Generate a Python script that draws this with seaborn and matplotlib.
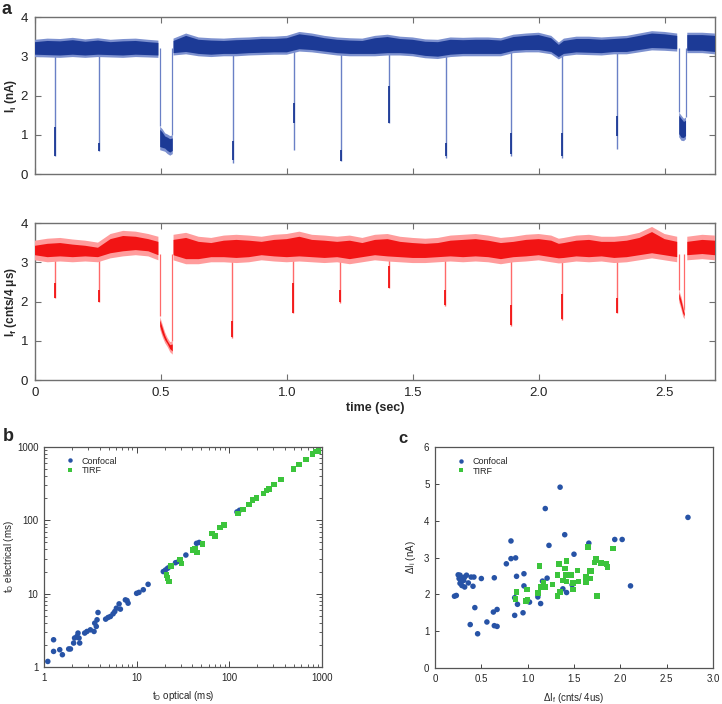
import numpy as np
import pandas as pd
import matplotlib
matplotlib.use("Agg")
import matplotlib.pyplot as plt
import seaborn as sns

sns.set_theme(style="ticks")
plt.rcParams["font.family"] = ["Liberation Sans", "DejaVu Sans"]
plt.rcParams["mathtext.fontset"] = "custom"
plt.rcParams["mathtext.rm"] = "Liberation Sans"
plt.rcParams["mathtext.it"] = "Liberation Sans:italic"
plt.rcParams["mathtext.bf"] = "Liberation Sans:bold"

nan = np.nan

# ---------------- panel a: ionic current (blue) ----------------
blue_t = [0.00, 0.05, 0.10, 0.15, 0.20, 0.25, 0.30, 0.35, 0.40, 0.45, 0.49, 0.52,
          0.55, 0.60, 0.65, 0.70, 0.75, 0.80, 0.85, 0.90, 0.95, 1.00, 1.05, 1.10,
          1.15, 1.20, 1.25, 1.30, 1.35, 1.40, 1.45, 1.50, 1.55, 1.60, 1.65, 1.70,
          1.75, 1.80, 1.85, 1.90, 1.95, 2.00, 2.05, 2.08, 2.10, 2.15, 2.20, 2.25,
          2.30, 2.35, 2.40, 2.45, 2.50, 2.55, 2.57, 2.59, 2.65, 2.70]
blue_lo = [2.98, 2.97, 2.96, 2.98, 2.96, 2.98, 2.97, 2.96, 2.98, 2.97, 2.96, nan,
           3.02, 3.05, 3.00, 2.98, 3.00, 3.00, 3.02, 3.03, 3.04, 3.04, 3.12, 3.10,
           3.06, 3.02, 3.00, 3.00, 3.00, 3.02, 3.02, 3.00, 2.95, 2.93, 2.98, 3.00,
           3.00, 3.00, 3.00, 3.08, 3.10, 3.10, 3.05, 2.92, 3.00, 3.04, 3.03, 3.02,
           3.05, 3.05, 3.10, 3.15, 3.14, 3.12, nan, 3.08, 3.08, 3.05]
blue_hi = [3.42, 3.45, 3.44, 3.47, 3.43, 3.46, 3.42, 3.44, 3.45, 3.42, 3.40, nan,
           3.45, 3.58, 3.48, 3.46, 3.45, 3.47, 3.48, 3.50, 3.50, 3.52, 3.62, 3.58,
           3.52, 3.48, 3.46, 3.45, 3.52, 3.55, 3.50, 3.48, 3.43, 3.42, 3.48, 3.47,
           3.48, 3.48, 3.46, 3.55, 3.58, 3.60, 3.52, 3.35, 3.45, 3.50, 3.50, 3.48,
           3.50, 3.52, 3.58, 3.64, 3.62, 3.58, nan, 3.60, 3.60, 3.58]

# short translocation events: time, deepest level, dark dwell segment
blue_ev_t = [0.081, 0.254, 0.787, 1.028, 1.213, 1.406, 1.631, 1.890, 2.093, 2.311]
blue_ev_min = [0.45, 0.58, 0.28, 0.62, 0.32, 1.30, 0.42, 0.47, 0.42, 0.64]
blue_ev_dlo = [0.45, 0.58, 0.35, 1.30, 0.33, 1.30, 0.45, 0.50, 0.45, 0.96]
blue_ev_dhi = [1.20, 0.80, 0.85, 1.80, 0.60, 2.25, 0.80, 1.04, 1.05, 1.47]

# long events
blue_long1_t = [0.495, 0.505, 0.515, 0.525, 0.535, 0.545]
blue_long1_lo = [0.62, 0.60, 0.58, 0.52, 0.48, 0.52]
blue_long1_hi = [1.22, 1.15, 1.05, 1.02, 0.98, 1.00]
blue_long2_t = [2.556, 2.565, 2.575, 2.583]
blue_long2_lo = [0.95, 0.86, 0.85, 0.90]
blue_long2_hi = [1.58, 1.50, 1.42, 1.45]

# ---------------- panel a: fluorescence (red) ----------------
red_t = blue_t
red_lo = [3.05, 3.00, 3.02, 3.00, 3.02, 3.00, 3.10, 3.15, 3.18, 3.15, 3.05, nan,
          3.05, 2.95, 2.95, 3.00, 3.00, 2.98, 3.00, 3.05, 3.02, 3.00, 3.02, 3.00,
          2.98, 3.00, 2.95, 3.00, 3.05, 3.02, 3.00, 2.98, 2.98, 3.00, 3.02, 3.00,
          3.02, 3.00, 2.95, 3.00, 3.02, 3.05, 3.00, 2.97, 2.98, 3.02, 3.00, 3.02,
          2.98, 3.00, 3.05, 3.10, 3.05, 3.00, nan, 3.05, 3.08, 3.05]
red_hi = [3.55, 3.60, 3.62, 3.58, 3.55, 3.50, 3.72, 3.80, 3.78, 3.72, 3.65, nan,
          3.70, 3.75, 3.65, 3.62, 3.68, 3.70, 3.68, 3.65, 3.70, 3.72, 3.78, 3.70,
          3.68, 3.65, 3.68, 3.62, 3.70, 3.72, 3.65, 3.62, 3.60, 3.62, 3.68, 3.70,
          3.72, 3.68, 3.62, 3.65, 3.70, 3.72, 3.68, 3.60, 3.62, 3.68, 3.70, 3.65,
          3.65, 3.68, 3.75, 3.90, 3.72, 3.65, nan, 3.65, 3.70, 3.68]

red_ev_t = [0.081, 0.254, 0.784, 1.026, 1.211, 1.406, 1.629, 1.890, 2.092, 2.311]
red_ev_min = [2.08, 2.00, 1.06, 1.70, 1.96, 2.35, 1.88, 1.37, 1.54, 1.71]
red_ev_dlo = [2.08, 2.00, 1.10, 1.70, 2.00, 2.35, 1.90, 1.40, 1.55, 1.72]
red_ev_dhi = [2.47, 2.30, 1.50, 2.47, 2.30, 2.91, 2.30, 1.90, 2.20, 2.10]

red_long1_t = [0.495, 0.505, 0.515, 0.525, 0.535, 0.545]
red_long1_lo = [1.30, 1.10, 0.95, 0.85, 0.72, 0.66]
red_long1_hi = [1.62, 1.42, 1.22, 1.08, 0.98, 1.00]
red_long2_t = [2.556, 2.565, 2.572, 2.578]
red_long2_lo = [2.00, 1.80, 1.62, 1.56]
red_long2_hi = [2.30, 2.12, 1.92, 1.78]

time_ticks = [0, 0.5, 1.0, 1.5, 2.0, 2.5]
time_labels = ["0", "0.5", "1.0", "1.5", "2.0", "2.5"]

# ---------------- panel b: dwell times ----------------
b_conf_x = [1.10, 1.27, 1.27, 1.48, 1.58, 1.85, 1.93, 2.09, 2.14, 2.27, 2.33, 2.43,
            2.39, 2.75, 2.91, 3.17, 3.47, 3.53, 3.67, 3.74, 3.83, 4.63, 4.92, 5.21,
            5.57, 5.81, 6.05, 6.47, 6.68, 7.56, 7.88, 8.09, 10.0, 10.6, 11.8, 13.3,
            19.4, 20.5, 21.6, 22.9, 26.3, 28.5, 34.0, 44.3, 47.3, 121, 129]
b_conf_y = [1.19, 1.63, 2.35, 1.72, 1.47, 1.76, 1.76, 2.12, 2.48, 2.61, 2.90, 2.12,
            2.48, 2.90, 3.05, 3.21, 3.05, 3.96, 3.57, 4.40, 5.53, 4.49, 4.73, 4.88,
            5.31, 5.70, 6.33, 7.25, 6.15, 8.22, 8.05, 7.41, 10.1, 10.4, 11.3, 13.4,
            20.0, 21.0, 22.2, 23.4, 26.4, 27.6, 33.6, 48.5, 49.9, 130, 137]
b_tirf_x = [21.0, 21.6, 22.5, 23.4, 29.2, 30.5, 40.1, 42.5, 45.0, 51.5, 64.9, 69.9,
            79.4, 87.3, 125, 141, 164, 178, 197, 233, 253, 268, 303, 362, 491, 564,
            672, 790, 864, 915]
b_tirf_y = [18.0, 16.2, 14.6, 24.0, 29.3, 25.9, 39.3, 40.5, 36.6, 47.5, 65.8, 61.5,
            80.3, 86.0, 124, 141, 165, 188, 203, 231, 256, 268, 306, 359, 504, 574,
            672, 795, 862, 886]

# ---------------- panel c: amplitudes ----------------
c_conf_x = [0.21, 0.23, 0.25, 0.27, 0.26, 0.28, 0.29, 0.31, 0.32, 0.34, 0.36, 0.39,
            0.41, 0.42, 0.50, 0.32, 0.30, 0.27, 0.38, 0.43, 0.46, 0.56, 0.64, 0.63,
            0.67, 0.64, 0.67, 0.77, 0.82, 0.82, 0.87, 0.86, 0.86, 0.88, 0.89, 0.96,
            0.96, 0.95, 1.02, 1.11, 1.14, 1.16, 1.19, 1.21, 1.23, 1.35, 1.38, 1.40,
            1.42, 1.50, 1.48, 1.66, 1.94, 2.02, 2.11, 2.73]
c_conf_y = [1.95, 1.97, 2.53, 2.52, 2.43, 2.33, 2.24, 2.38, 2.47, 2.52, 2.31, 2.47,
            2.22, 2.47, 2.43, 2.20, 2.45, 2.30, 1.18, 1.64, 0.93, 1.25, 2.45, 1.52,
            1.59, 1.15, 1.13, 2.83, 3.45, 2.97, 2.99, 1.91, 1.43, 2.49, 1.73, 2.56,
            2.23, 1.50, 1.79, 1.93, 1.75, 2.36, 4.33, 2.44, 3.33, 4.91, 2.15, 3.62,
            2.05, 3.09, 2.26, 3.39, 3.49, 3.49, 2.23, 4.09]
c_tirf_x = [0.88, 0.87, 0.99, 1.00, 0.98, 1.11, 1.13, 1.14, 1.17, 1.19, 1.27, 1.32,
            1.34, 1.32, 1.35, 1.38, 1.40, 1.41, 1.42, 1.42, 1.47, 1.49, 1.49, 1.54,
            1.55, 1.63, 1.63, 1.65, 1.67, 1.68, 1.69, 1.72, 1.74, 1.73, 1.75, 1.79,
            1.85, 1.86, 1.92]
c_tirf_y = [2.06, 1.88, 2.13, 1.86, 1.82, 2.04, 2.77, 2.20, 2.31, 2.20, 2.27, 2.52,
            2.83, 1.95, 2.06, 2.38, 2.70, 2.53, 2.90, 2.35, 2.52, 2.31, 2.13, 2.65,
            2.35, 2.33, 2.47, 3.29, 2.63, 2.43, 2.63, 2.86, 2.97, 2.92, 1.95, 2.85,
            2.83, 2.74, 3.24]

BLUE_DARK = "#1c3a96"
BLUE_LIGHT = "#7d91cf"
BLUE_SPIKE = "#6a80c6"
RED_DARK = "#f21414"
RED_LIGHT = "#ff9c9c"
RED_SPIKE = "#ff6a6a"
DOT_BLUE = "#2753a6"
DOT_GREEN = "#3cc43c"
SPINE = "#707070"

fig = plt.figure(figsize=(7.22, 7.04), dpi=100)
ax_i = fig.add_axes([0.0485, 0.7528, 0.9418, 0.2230])
ax_f = fig.add_axes([0.0485, 0.4602, 0.9418, 0.2230])
ax_b = fig.add_axes([0.0609, 0.0526, 0.3850, 0.3125])
ax_c = fig.add_axes([0.6025, 0.0511, 0.3850, 0.3139])


def draw_trace(ax, t, lo, hi, ev_t, ev_min, ev_dlo, ev_dhi, longs, dark, light, spike, core):
    lo = np.array(lo)
    hi = np.array(hi)
    # event spikes (thin line + darker dwell)
    ax.vlines(ev_t, ev_min, 3.2, color=spike, lw=1.0, zorder=1)
    ax.vlines(ev_t, ev_dlo, ev_dhi, color=dark, lw=1.3, zorder=2)
    for lt, llo, lhi in longs:
        ax.vlines([lt[0], lt[-1]], [lhi[0], lhi[-1]], 3.2, color=spike, lw=0.9, zorder=1)
        ax.fill_between(lt, llo, lhi, color=light, lw=0, zorder=2)
        ax.fill_between(lt, np.array(llo) + 0.08, np.array(lhi) - 0.08,
                        color=dark, lw=0, zorder=3)
    ax.fill_between(t, lo, hi, color=light, lw=0, zorder=3)
    ax.fill_between(t, lo + core, hi - core, color=dark, lw=0, zorder=4)


draw_trace(ax_i, blue_t, blue_lo, blue_hi, blue_ev_t, blue_ev_min, blue_ev_dlo,
           blue_ev_dhi,
           [(blue_long1_t, blue_long1_lo, blue_long1_hi),
            (blue_long2_t, blue_long2_lo, blue_long2_hi)],
           BLUE_DARK, BLUE_LIGHT, BLUE_SPIKE, 0.06)
draw_trace(ax_f, red_t, red_lo, red_hi, red_ev_t, red_ev_min, red_ev_dlo,
           red_ev_dhi,
           [(red_long1_t, red_long1_lo, red_long1_hi),
            (red_long2_t, red_long2_lo, red_long2_hi)],
           RED_DARK, RED_LIGHT, RED_SPIKE, 0.13)

for ax in (ax_i, ax_f):
    ax.set_xlim(0, 2.7)
    ax.set_ylim(0, 4)
    ax.set_yticks([0, 1, 2, 3, 4])
    ax.set_xticks(time_ticks)
    ax.tick_params(direction="in", top=True, right=True, length=4, width=0.8,
                   color=SPINE, labelsize=9.5, pad=5, labelcolor="#222222")
    for sp in ax.spines.values():
        sp.set_color(SPINE)
        sp.set_linewidth(1.0)

ax_i.set_xticklabels([])
ax_f.set_xticklabels(time_labels)
ax_i.set_ylabel(r"I$_{\mathbf{i}}$ (nA)", fontsize=8.5, fontweight="bold", labelpad=1)
ax_f.set_ylabel(r"I$_{\mathbf{f}}$ (cnts/4 μs)", fontsize=8.5, fontweight="bold", labelpad=1)
ax_f.set_xlabel("time (sec)", fontsize=9, fontweight="bold", labelpad=2)

# ---------------- panel b ----------------
dfb = pd.DataFrame({
    "x": b_conf_x + b_tirf_x,
    "y": b_conf_y + b_tirf_y,
    "kind": ["Confocal"] * len(b_conf_x) + ["TIRF"] * len(b_tirf_x),
})
dfc = pd.DataFrame({
    "x": c_conf_x + c_tirf_x,
    "y": c_conf_y + c_tirf_y,
    "kind": ["Confocal"] * len(c_conf_x) + ["TIRF"] * len(c_tirf_x),
})
pal = {"Confocal": DOT_BLUE, "TIRF": DOT_GREEN}
mk = {"Confocal": "o", "TIRF": "s"}

sns.scatterplot(data=dfb, x="x", y="y", hue="kind", style="kind", palette=pal,
                markers=mk, s=16, linewidth=0, ax=ax_b)
ax_b.set_xscale("log")
ax_b.set_yscale("log")
ax_b.set_xlim(1, 1000)
ax_b.set_ylim(1, 1000)
ax_b.set_xticks([1, 10, 100, 1000])
ax_b.set_xticklabels(["1", "10", "100", "1000"])
ax_b.set_yticks([1, 10, 100, 1000])
ax_b.set_yticklabels(["1", "10", "100", "1000"])
ax_b.set_xlabel(r"t$_\mathrm{D}$ optical (ms)", fontsize=7, labelpad=5)
ax_b.set_ylabel(r"t$_\mathrm{D}$ electrical (ms)", fontsize=7, labelpad=1)

sns.scatterplot(data=dfc, x="x", y="y", hue="kind", style="kind", palette=pal,
                markers=mk, s=16, linewidth=0, ax=ax_c)
ax_c.set_xlim(0, 3.0)
ax_c.set_ylim(0, 6)
ax_c.set_xticks([0, 0.5, 1.0, 1.5, 2.0, 2.5, 3.0])
ax_c.set_xticklabels(["0", "0.5", "1.0", "1.5", "2.0", "2.5", "3.0"])
ax_c.set_yticks([0, 1, 2, 3, 4, 5, 6])
ax_c.set_xlabel(r"ΔI$_\mathrm{f}$ (cnts/ 4us)", fontsize=7, labelpad=5)
ax_c.set_ylabel(r"ΔI$_\mathrm{i}$ (nA)", fontsize=7, labelpad=4)

ax_b.tick_params(which="major", direction="in", top=True, right=True, length=4,
                 width=0.7, color="#444444", labelsize=7, pad=4)
ax_b.tick_params(which="minor", direction="in", top=True, right=True, length=2.5,
                 width=0.6, color="#444444")
ax_c.tick_params(direction="in", length=3, width=0.7, color="#444444",
                 labelsize=7, pad=4)

for ax in (ax_b, ax_c):
    for sp in ax.spines.values():
        sp.set_color("#555555")
        sp.set_linewidth(0.9)
    sns.move_legend(ax, "upper left", bbox_to_anchor=(0.04, 0.985), title=None,
                    frameon=False, fontsize=6.5, handletextpad=0.2,
                    labelspacing=0.1, borderaxespad=0.3, markerscale=0.8)

fig.text(0.002, 0.999, "a", fontsize=13, fontweight="bold", va="top", ha="left")
fig.text(0.004, 0.392, "b", fontsize=13, fontweight="bold", va="top", ha="left")
fig.text(0.552, 0.388, "c", fontsize=12, fontweight="bold", va="top", ha="left")

fig.savefig("out.png", dpi=100)
